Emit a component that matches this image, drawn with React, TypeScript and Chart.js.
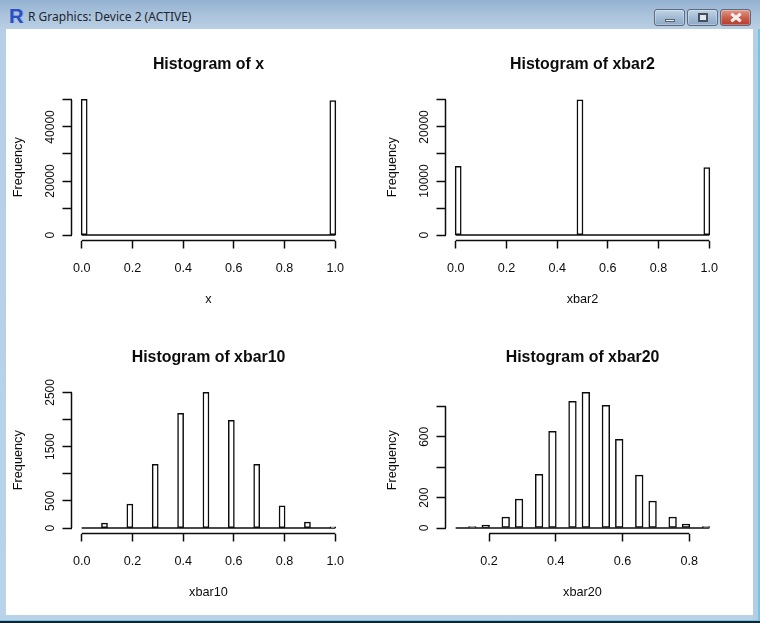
import React, { useRef, useEffect } from 'react';
import { Chart, registerables } from 'chart.js';

Chart.register(...registerables);

const FONT = "'Liberation Sans', Arial, sans-serif";
const INK = '#0c0c0c';
const LINE = 1.5;
const BIN = 0.02;

// histogram of x
const xMids = [0.01, 0.99];
const xCounts = [50250, 49800];
const xTicks = [0, 0.2, 0.4, 0.6, 0.8, 1];
const xYTicks = [0, 10000, 20000, 30000, 40000, 50000];
const xYLabels = [0, 20000, 40000];

// histogram of xbar2
const xbar2Mids = [0.01, 0.49, 0.99];
const xbar2Counts = [12740, 25000, 12500];
const xbar2Ticks = [0, 0.2, 0.4, 0.6, 0.8, 1];
const xbar2YTicks = [0, 5000, 10000, 15000, 20000, 25000];
const xbar2YLabels = [0, 10000, 20000];

// histogram of xbar10
const xbar10Mids = [0.09, 0.19, 0.29, 0.39, 0.49, 0.59, 0.69, 0.79, 0.89, 0.99];
const xbar10Counts = [92, 441, 1176, 2114, 2500, 1985, 1176, 410, 110, 25];
const xbar10Ticks = [0, 0.2, 0.4, 0.6, 0.8, 1];
const xbar10YTicks = [0, 500, 1000, 1500, 2000, 2500];
const xbar10YLabels = [0, 500, 1500, 2500];

// histogram of xbar20
const xbar20Mids = [0.15, 0.19, 0.25, 0.29, 0.35, 0.39, 0.45, 0.49, 0.55, 0.59, 0.65, 0.69, 0.75, 0.79, 0.85];
const xbar20Counts = [10, 20, 72, 190, 354, 636, 833, 892, 807, 584, 348, 177, 72, 26, 10];
const xbar20Ticks = [0.2, 0.4, 0.6, 0.8];
const xbar20YTicks = [0, 200, 400, 600, 800];
const xbar20YLabels = [0, 200, 600];

// draws the detached R style axis lines, first tick to last tick
const rAxes = {
  id: 'rAxes',
  afterDraw(chart: any) {
    const { ctx, chartArea, scales } = chart;
    const xs = scales.x.ticks.map((t: any) => scales.x.getPixelForValue(t.value));
    const ys = scales.y.ticks.map((t: any) => scales.y.getPixelForValue(t.value));
    ctx.save();
    ctx.strokeStyle = INK;
    ctx.lineWidth = LINE;
    ctx.beginPath();
    ctx.moveTo(xs[0], chartArea.bottom);
    ctx.lineTo(xs[xs.length - 1], chartArea.bottom);
    ctx.moveTo(chartArea.left, ys[0]);
    ctx.lineTo(chartArea.left, ys[ys.length - 1]);
    ctx.stroke();
    ctx.restore();
  },
};

interface HistProps {
  left: number;
  top: number;
  title: string;
  xLabel: string;
  mids: number[];
  counts: number[];
  breaks: [number, number];
  ticks: number[];
  yTicks: number[];
  yLabels: number[];
  yRange: [number, number];
}

const Hist: React.FC<HistProps> = ({ left, top, title, xLabel, mids, counts, breaks, ticks, yTicks, yLabels, yRange }) => {
  const ref = useRef<HTMLCanvasElement>(null);

  useEffect(() => {
    if (!ref.current) return;
    // R pads the axis limits by 4% either side
    const pad = (breaks[1] - breaks[0]) * 0.04;
    const pxPerUnit = 274 / (breaks[1] - breaks[0] + 2 * pad);
    const widest = String(Math.max(...yLabels)).length * 6.67;

    const chart = new Chart(ref.current, {
      type: 'bar',
      data: {
        datasets: [
          {
            data: mids.map((m, i) => ({ x: m, y: counts[i] })),
            backgroundColor: '#fff',
            borderColor: INK,
            borderWidth: LINE,
            borderSkipped: false,
            barThickness: BIN * pxPerUnit + 1,
            order: 0,
            clip: false,
          },
          {
            type: 'line',
            data: [{ x: breaks[0], y: 0 }, { x: breaks[1], y: 0 }],
            borderColor: INK,
            borderWidth: LINE,
            pointRadius: 0,
            order: 1,
          },
        ] as any,
      },
      options: {
        animation: false,
        responsive: false,
        layout: { padding: { right: 34.5 } },
        plugins: {
          legend: { display: false },
          tooltip: { enabled: false },
          title: {
            display: true,
            fullSize: false,
            text: title,
            color: INK,
            font: { family: FONT, size: 15.9, weight: 'bold', lineHeight: 1.2 },
            padding: { top: 27.5, bottom: 19.4 },
          },
        },
        scales: {
          x: {
            type: 'linear',
            offset: false,
            min: breaks[0] - pad,
            max: breaks[1] + pad,
            bounds: 'data',
            afterBuildTicks: (s: any) => { s.ticks = ticks.map((value) => ({ value })); },
            afterFit: (s: any) => { s.height = 80.5; },
            grid: { offset: false, drawOnChartArea: false, drawTicks: true, tickLength: 8, tickColor: INK, tickWidth: LINE },
            border: { display: false },
            ticks: {
              autoSkip: false,
              maxRotation: 0,
              padding: 12.5,
              color: INK,
              font: { family: FONT, size: 12.6 },
              callback: (v: any) => Number(v).toFixed(1),
            },
            title: {
              display: true,
              text: xLabel,
              color: INK,
              font: { family: FONT, size: 12.7, lineHeight: 1.2 },
              padding: { top: 0, bottom: 13.8 },
            },
          },
          y: {
            type: 'linear',
            min: yRange[0],
            max: yRange[1],
            bounds: 'data',
            afterBuildTicks: (s: any) => { s.ticks = yTicks.map((value) => ({ value })); },
            afterFit: (s: any) => { s.width = 65.5; },
            grid: { drawOnChartArea: false, drawTicks: true, tickLength: 9, tickColor: INK, tickWidth: LINE },
            border: { display: false },
            ticks: {
              autoSkip: false,
              minRotation: 90,
              maxRotation: 90,
              crossAlign: 'center',
              padding: 12 - widest / 2,
              color: INK,
              font: { family: FONT, size: 12 },
              callback: (v: any) => (yLabels.includes(Number(v)) ? String(v) : ''),
            },
            title: {
              display: true,
              text: 'Frequency',
              color: INK,
              font: { family: FONT, size: 12.7, lineHeight: 1.2 },
              padding: { top: 5.2, bottom: 0 },
            },
          },
        },
      } as any,
      plugins: [rAxes],
    });

    return () => chart.destroy();
  }, []);

  return (
    <canvas
      ref={ref}
      width={374}
      height={293}
      style={{ position: 'absolute', left, top, width: 374, height: 293 }}
    />
  );
};

const Btn: React.FC<{ left: number; width: number; bg: string; children?: React.ReactNode }> = ({ left, width, bg, children }) => (
  <div
    style={{
      position: 'absolute', left, top: 9, width, height: 17, boxSizing: 'border-box',
      border: '1px solid #5a6a80', borderRadius: 3, background: bg,
      boxShadow: 'inset 0 0 0 1px rgba(255,255,255,0.3)',
    }}
  >
    {children}
  </div>
);

const App: React.FC = () => (
  <div
    style={{
      position: 'absolute', left: 0, top: 0, width: 760, height: 623, overflow: 'hidden',
      background: 'linear-gradient(180deg, #9fbad6 0%, #b7cfe6 5%, #b8d3ea 100%)',
    }}
  >
    {/* window frame edges */}
    <div style={{ position: 'absolute', right: 0, top: 0, width: 2, height: 620, background: '#6fc6e8' }} />
    <div style={{ position: 'absolute', left: 753, top: 120, width: 5, height: 500, background: '#b4cde2' }} />
    <div style={{ position: 'absolute', left: 0, top: 620, width: 760, height: 1, background: '#6fc6e8' }} />
    <div style={{ position: 'absolute', left: 0, top: 621, width: 760, height: 2, background: '#16242e' }} />

    {/* title bar */}
    <div style={{ position: 'absolute', left: 0, top: 0, width: 760, height: 29, background: 'linear-gradient(180deg, #93b1d1 0%, #a8c1da 45%, #b9cfe4 100%)' }} />
    <div style={{ position: 'absolute', left: 9, top: 7, width: 16, height: 18, color: '#2b4fc0', fontFamily: FONT, fontWeight: 'bold', fontSize: 20, lineHeight: '18px', textShadow: '1px 0 0 #8ea5e8' }}>R</div>
    <div style={{ position: 'absolute', left: 28, top: 9, color: '#1c2530', fontFamily: "'Noto Sans', sans-serif", fontSize: 12, lineHeight: '16px', whiteSpace: 'nowrap' }}>R Graphics: Device 2 (ACTIVE)</div>
    <Btn left={654} width={31} bg="linear-gradient(180deg, #c2d4e6 0%, #a3bbd3 50%, #8fa9c6 100%)">
      <div style={{ position: 'absolute', left: 10, top: 9, width: 10, height: 3, background: '#eef2f6', border: '1px solid #55626f', boxSizing: 'border-box' }} />
    </Btn>
    <Btn left={687} width={31} bg="linear-gradient(180deg, #c2d4e6 0%, #a3bbd3 50%, #8fa9c6 100%)">
      <div style={{ position: 'absolute', left: 10, top: 3, width: 10, height: 9, border: '2px solid #44505e', boxSizing: 'border-box', background: '#dfe7ef' }} />
    </Btn>
    <Btn left={720} width={31} bg="linear-gradient(180deg, #e0988a 0%, #c9604c 50%, #b8392a 100%)">
      <div style={{ position: 'absolute', left: 9, top: 6, width: 12, height: 3, background: '#f4f0ee', transform: 'rotate(38deg)' }} />
      <div style={{ position: 'absolute', left: 9, top: 6, width: 12, height: 3, background: '#f4f0ee', transform: 'rotate(-38deg)' }} />
    </Btn>

    {/* client area */}
    <div style={{ position: 'absolute', left: 6, top: 29, width: 747, height: 586, background: '#fff' }} />

    <Hist left={6} top={28} title="Histogram of x" xLabel="x" mids={xMids} counts={xCounts} breaks={[0, 1]} ticks={xTicks} yTicks={xYTicks} yLabels={xYLabels} yRange={[-2000, 52200]} />
    <Hist left={380} top={28} title="Histogram of xbar2" xLabel="xbar2" mids={xbar2Mids} counts={xbar2Counts} breaks={[0, 1]} ticks={xbar2Ticks} yTicks={xbar2YTicks} yLabels={xbar2YLabels} yRange={[-1000, 26100]} />
    <Hist left={6} top={321} title="Histogram of xbar10" xLabel="xbar10" mids={xbar10Mids} counts={xbar10Counts} breaks={[0, 1]} ticks={xbar10Ticks} yTicks={xbar10YTicks} yLabels={xbar10YLabels} yRange={[-100, 2600]} />
    <Hist left={380} top={321} title="Histogram of xbar20" xLabel="xbar20" mids={xbar20Mids} counts={xbar20Counts} breaks={[0.1, 0.86]} ticks={xbar20Ticks} yTicks={xbar20YTicks} yLabels={xbar20YLabels} yRange={[-36, 928]} />
  </div>
);

export default App;
